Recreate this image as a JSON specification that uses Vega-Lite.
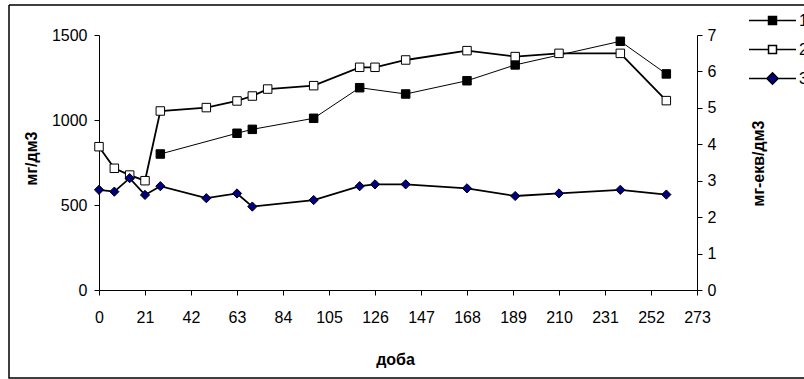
{
  "$schema": "https://vega.github.io/schema/vega-lite/v6.json",
  "width": 795,
  "height": 373,
  "padding": {"left": 9, "top": 5, "right": 0, "bottom": 1},
  "autosize": {"type": "none"},
  "background": "white",
  "config": {
    "view": {"stroke": "black", "strokeWidth": 1.5, "strokeDash": [795, 373, 1168, 0]},
    "font": "Liberation Sans",
    "axis": {
      "domainColor": "black", "tickColor": "black", "labelColor": "black", "titleColor": "black",
      "labelFont": "Liberation Sans", "titleFont": "Liberation Sans",
      "labelFontSize": 16, "titleFontSize": 16, "titleFontWeight": "bold",
      "grid": false, "tickSize": 5, "domainWidth": 1, "tickWidth": 1
    },
    "legend": {
      "title": null, "orient": "none", "legendX": 739, "legendY": 1, "padding": 0,
      "symbolSize": 2209, "clipHeight": 29, "rowPadding": 0, "labelOffset": 2,
      "labelFontSize": 16, "labelFont": "Liberation Sans", "labelColor": "black",
      "symbolStrokeColor": "black", "symbolStrokeWidth": 1.5
    }
  },
  "data": {
    "values": [
      {"s": "1", "day": 28, "v": 800},
      {"s": "1", "day": 63, "v": 922},
      {"s": "1", "day": 70, "v": 945},
      {"s": "1", "day": 98, "v": 1010},
      {"s": "1", "day": 119, "v": 1190},
      {"s": "1", "day": 140, "v": 1153},
      {"s": "1", "day": 168, "v": 1231},
      {"s": "1", "day": 190, "v": 1324},
      {"s": "1", "day": 238, "v": 1463},
      {"s": "1", "day": 259, "v": 1271},
      {"s": "2", "day": 0, "v": 843},
      {"s": "2", "day": 7, "v": 716},
      {"s": "2", "day": 14, "v": 676},
      {"s": "2", "day": 21, "v": 643},
      {"s": "2", "day": 28, "v": 1053},
      {"s": "2", "day": 49, "v": 1073},
      {"s": "2", "day": 63, "v": 1112},
      {"s": "2", "day": 70, "v": 1141},
      {"s": "2", "day": 77, "v": 1182},
      {"s": "2", "day": 98, "v": 1202},
      {"s": "2", "day": 119, "v": 1310},
      {"s": "2", "day": 126, "v": 1310},
      {"s": "2", "day": 140, "v": 1353},
      {"s": "2", "day": 168, "v": 1408},
      {"s": "2", "day": 190, "v": 1373},
      {"s": "2", "day": 210, "v": 1392},
      {"s": "2", "day": 238, "v": 1392},
      {"s": "2", "day": 259, "v": 1114},
      {"s": "3", "day": 0, "v": 2.75},
      {"s": "3", "day": 7, "v": 2.70},
      {"s": "3", "day": 14, "v": 3.07},
      {"s": "3", "day": 21, "v": 2.61},
      {"s": "3", "day": 28, "v": 2.85},
      {"s": "3", "day": 49, "v": 2.52},
      {"s": "3", "day": 63, "v": 2.65},
      {"s": "3", "day": 70, "v": 2.29},
      {"s": "3", "day": 98, "v": 2.47},
      {"s": "3", "day": 119, "v": 2.85},
      {"s": "3", "day": 126, "v": 2.90},
      {"s": "3", "day": 140, "v": 2.90},
      {"s": "3", "day": 168, "v": 2.79},
      {"s": "3", "day": 190, "v": 2.58},
      {"s": "3", "day": 210, "v": 2.65},
      {"s": "3", "day": 238, "v": 2.75},
      {"s": "3", "day": 259, "v": 2.62}
    ]
  },
  "encoding": {
    "x": {
      "field": "day", "type": "quantitative",
      "scale": {"domain": [0, 273], "range": [90, 688], "nice": false, "zero": false},
      "axis": {
        "title": "доба", "values": [0, 21, 42, 63, 84, 105, 126, 147, 168, 189, 210, 231, 252, 273],
        "offset": -88, "labelPadding": 14, "labelFlush": false, "labelOverlap": false,
        "titleX": 386, "titleY": 69, "titleBaseline": "middle"
      }
    }
  },
  "layer": [
    {
      "transform": [{"filter": "datum.s !== '3'"}],
      "encoding": {
        "y": {
          "field": "v", "type": "quantitative",
          "scale": {"domain": [0, 1500], "range": [285, 30], "nice": false, "zero": true},
          "axis": {
            "title": "мг/дм3", "values": [0, 500, 1000, 1500], "format": "d", "offset": -90, "labelPadding": 7,
            "titleX": -68, "titleY": 153, "titleAngle": -90, "titleBaseline": "middle", "titleAlign": "center"
          }
        }
      },
      "layer": [
        {
          "mark": {"type": "line", "color": "black"},
          "encoding": {
            "detail": {"field": "s", "type": "nominal"},
            "strokeWidth": {"field": "s", "type": "nominal", "scale": {"domain": ["1", "2"], "range": [1, 1.8]}, "legend": null}
          }
        },
        {
          "mark": {"type": "point", "shape": "square", "filled": true, "stroke": "black", "strokeWidth": 1, "opacity": 1, "size": 72},
          "encoding": {
            "fill": {
              "field": "s", "type": "nominal",
              "scale": {"domain": ["1", "2", "3"], "range": ["#000000", "#ffffff", "#000080"]},
              "legend": {
                "encoding": {"symbols": {
                  "shape": {"value": {"expr": "datum.value === '3' ? 'M-1,0H-0.24M0.24,0H1M0,-0.24L0.24,0L0,0.24L-0.24,0Z' : 'M-1,0H-0.17M0.17,0H1M-0.17,-0.17H0.17V0.17H-0.17Z'"}},
                  "stroke": {"value": "black"}, "strokeWidth": {"value": 1.5}, "size": {"value": 2209}, "opacity": {"value": 1}
                }}
              }
            }
          }
        }
      ]
    },
    {
      "transform": [{"filter": "datum.s === '3'"}],
      "encoding": {
        "y": {
          "field": "v", "type": "quantitative",
          "scale": {"domain": [0, 7], "range": [285, 30], "nice": false, "zero": true},
          "axis": {
            "orient": "right", "title": "мг-екв/дм3", "values": [0, 1, 2, 3, 4, 5, 6, 7], "offset": -107, "labelPadding": 5,
            "titleX": 61, "titleY": 158, "titleAngle": -90, "titleBaseline": "middle", "titleAlign": "center"
          }
        }
      },
      "layer": [
        {
          "mark": {"type": "line", "color": "black", "strokeWidth": 1.8},
          "encoding": {}
        },
        {
          "mark": {"type": "point", "shape": "diamond", "filled": true, "stroke": "black", "strokeWidth": 1, "opacity": 1, "size": 85},
          "encoding": {
            "fill": {
              "field": "s", "type": "nominal",
              "legend": {
                "encoding": {"symbols": {
                  "shape": {"value": {"expr": "datum.value === '3' ? 'M-1,0H-0.24M0.24,0H1M0,-0.24L0.24,0L0,0.24L-0.24,0Z' : 'M-1,0H-0.17M0.17,0H1M-0.17,-0.17H0.17V0.17H-0.17Z'"}},
                  "stroke": {"value": "black"}, "strokeWidth": {"value": 1.5}, "size": {"value": 2209}, "opacity": {"value": 1}
                }}
              }
            }
          }
        }
      ]
    }
  ],
  "resolve": {"scale": {"y": "independent"}, "axis": {"y": "independent"}}
}
